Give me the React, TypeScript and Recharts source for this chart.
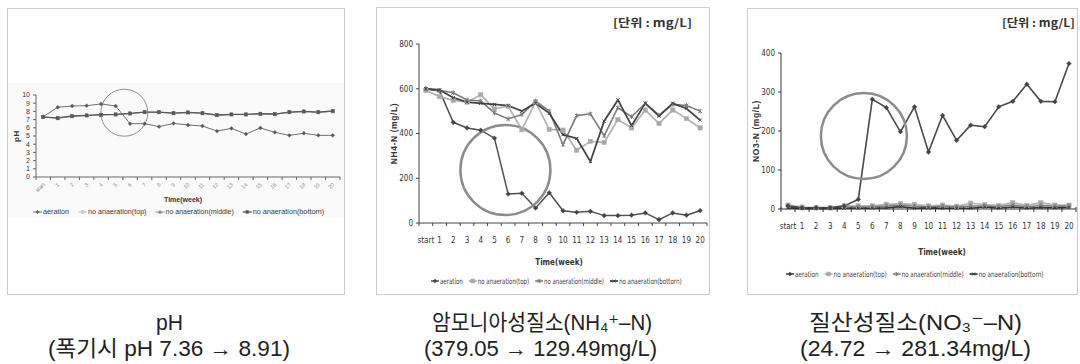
import React from 'react';
import { LineChart, Line, XAxis, YAxis, Legend, ReferenceDot, Label } from 'recharts';

// ---------------- data ----------------
const weeks = [0, 1, 2, 3, 4, 5, 6, 7, 8, 9, 10, 11, 12, 13, 14, 15, 16, 17, 18, 19, 20];
const weekLabels = ['start', '1', '2', '3', '4', '5', '6', '7', '8', '9', '10', '11', '12', '13', '14', '15', '16', '17', '18', '19', '20'];
const seriesNames = ['aeration', 'no anaeration(top)', 'no anaeration(middle)', 'no anaeration(bottorn)'];

const phAeration = [7.36, 8.5, 8.66, 8.7, 8.91, 8.66, 6.5, 6.5, 6.14, 6.54, 6.34, 6.22, 5.6, 5.93, 5.24, 5.98, 5.45, 5.08, 5.33, 5.08, 5.08];
const phTop = [7.3, 7.15, 7.4, 7.48, 7.56, 7.6, 7.72, 7.89, 7.89, 7.76, 7.85, 7.76, 7.52, 7.6, 7.6, 7.68, 7.64, 7.89, 7.97, 7.89, 8.0];
const phMiddle = [7.32, 7.18, 7.42, 7.5, 7.58, 7.62, 7.74, 7.9, 7.9, 7.78, 7.87, 7.78, 7.55, 7.62, 7.62, 7.7, 7.66, 7.9, 7.98, 7.9, 8.02];
const phBottom = [7.3, 7.2, 7.44, 7.52, 7.6, 7.64, 7.76, 7.92, 7.92, 7.8, 7.88, 7.8, 7.56, 7.64, 7.64, 7.72, 7.68, 7.92, 8.0, 7.92, 8.05];

const nh4Aeration = [600, 590, 450, 425, 415, 379.05, 129.49, 133, 67, 135, 55, 48, 52, 33, 33, 35, 45, 15, 45, 35, 55];
const nh4Top = [592, 565, 548, 540, 573, 510, 522, 417, 540, 418, 415, 325, 365, 360, 462, 425, 505, 445, 505, 467, 425];
const nh4Middle = [598, 592, 582, 550, 545, 492, 465, 485, 545, 500, 350, 480, 488, 390, 515, 475, 535, 482, 530, 525, 500];
const nh4Bottom = [600, 595, 560, 540, 535, 530, 525, 500, 535, 490, 395, 378, 275, 455, 550, 435, 535, 478, 535, 512, 460];

const no3Aeration = [8, 3, 3, 3, 8, 24.72, 281.34, 260, 198, 262, 146, 240, 176, 215, 211, 262, 276, 320, 276, 275, 373];
const no3Top = [10, 5, 4, 4, 8, 8, 8, 12, 14, 12, 8, 10, 7, 15, 11, 9, 16, 9, 16, 10, 10];
const no3Middle = [6, 3, 3, 2, 5, 5, 6, 8, 10, 7, 5, 7, 5, 8, 8, 6, 10, 6, 9, 7, 8];
const no3Bottom = [3, 1, 1, 1, 2, 2, 2, 3, 6, 2, 3, 2, 2, 2, 5, 2, 5, 2, 4, 3, 4];

const phTicks = [0, 1, 2, 3, 4, 5, 6, 7, 8, 9, 10];
const nh4Ticks = [0, 200, 400, 600, 800];
const no3Ticks = [0, 100, 200, 300, 400];

const phHighlight = { week: 5.6, value: 7.84 };
const nh4Highlight = { week: 5.8, value: 237 };
const no3Highlight = { week: 5.4, value: 187 };

const captionTitles = ['pH', '암모니아성질소(NH₄⁺–N)', '질산성질소(NO₃⁻–N)'];
const captionRanges = ['(폭기시 pH 7.36 → 8.91)', '(379.05 → 129.49mg/L)', '(24.72 → 281.34mg/L)'];
const unitText = '[단위 : mg/L]';

// ---------------- helpers ----------------
const buildRows = (a: number[], t: number[], m: number[], b: number[]) =>
  weeks.map((w, i) => ({ w, a: a[i], t: t[i], m: m[i], b: b[i] }));

const xTickValues: number[] = [];
weeks.forEach((w) => { xTickValues.push(w - 0.5); xTickValues.push(w); });
xTickValues.push(weeks[weeks.length - 1] + 0.5);

function Marker({ shape, cx, cy, size, stroke, fill }: any) {
  const s = size;
  if (cx == null || cy == null) return null;
  switch (shape) {
    case 'square':
      return <rect x={cx - s} y={cy - s} width={2 * s} height={2 * s} fill={fill} stroke={stroke} strokeWidth={0.5} />;
    case 'diamond':
      return <polygon points={`${cx},${cy - s * 1.3} ${cx + s * 1.3},${cy} ${cx},${cy + s * 1.3} ${cx - s * 1.3},${cy}`} fill={fill} stroke={stroke} strokeWidth={0.5} />;
    case 'triangle':
      return <polygon points={`${cx},${cy - s * 1.3} ${cx + s * 1.2},${cy + s} ${cx - s * 1.2},${cy + s}`} fill={fill} stroke={stroke} strokeWidth={0.5} />;
    case 'x':
      return <path d={`M${cx - s},${cy - s}L${cx + s},${cy + s}M${cx - s},${cy + s}L${cx + s},${cy - s}`} stroke={stroke} strokeWidth={1} />;
    case 'star':
      return <path d={`M${cx - s},${cy - s}L${cx + s},${cy + s}M${cx - s},${cy + s}L${cx + s},${cy - s}M${cx},${cy - s * 1.3}L${cx},${cy + s * 1.3}`} stroke={stroke} strokeWidth={1} />;
    default:
      return null;
  }
}

type SeriesStyle = { key: string; name: string; stroke: string; width: number; shape: string; size: number; fill: string };

const styles1: SeriesStyle[] = [
  { key: 'a', name: seriesNames[0], stroke: '#707070', width: 1, shape: 'diamond', size: 1.5, fill: '#555' },
  { key: 't', name: seriesNames[1], stroke: '#c4c4c4', width: 1, shape: 'square', size: 1.5, fill: '#c4c4c4' },
  { key: 'm', name: seriesNames[2], stroke: '#8a8a8a', width: 1, shape: 'triangle', size: 1.5, fill: '#777' },
  { key: 'b', name: seriesNames[3], stroke: '#5a5a5a', width: 1.3, shape: 'square', size: 1.5, fill: '#555' },
];
const styles2: SeriesStyle[] = [
  { key: 'a', name: seriesNames[0], stroke: '#505050', width: 1.5, shape: 'diamond', size: 1.8, fill: '#444' },
  { key: 't', name: seriesNames[1], stroke: '#b4b4b4', width: 1.8, shape: 'square', size: 2.2, fill: '#a8a8a8' },
  { key: 'm', name: seriesNames[2], stroke: '#7c7c7c', width: 1.6, shape: 'star', size: 1.8, fill: '#777' },
  { key: 'b', name: seriesNames[3], stroke: '#444444', width: 1.8, shape: 'x', size: 1.6, fill: '#444' },
];
const styles3: SeriesStyle[] = [
  { key: 'a', name: seriesNames[0], stroke: '#4a4a4a', width: 1.6, shape: 'diamond', size: 1.8, fill: '#444' },
  { key: 't', name: seriesNames[1], stroke: '#b8b8b8', width: 1.8, shape: 'square', size: 2.2, fill: '#aaa' },
  { key: 'm', name: seriesNames[2], stroke: '#7a7a7a', width: 1.5, shape: 'star', size: 1.8, fill: '#777' },
  { key: 'b', name: seriesNames[3], stroke: '#333333', width: 1.6, shape: 'x', size: 1.6, fill: '#333' },
];

type PanelCfg = {
  box: { left: number; top: number; width: number; height: number };
  plot: { left: number; top: number; right: number; bottom: number };
  rows: any[];
  yDomain: [number, number];
  yTicks: number[];
  yLabel: string;
  yLabelX: number;
  yLabelSize: number;
  yTickSize: number;
  xAxisHeight: number;
  xRotate: boolean;
  xLabelDy: number;
  xLabelSize: number;
  xLabelFill: string;
  xTickUp: number;
  timeX: number;
  timeY: number;
  timeSize: number;
  legendY: number;
  legendX0: number;
  legendIconW: number;
  legendCharW: number;
  legendGap: number;
  legendSize: number;
  styles: SeriesStyle[];
  drawOrder: string[];
  highlight: { week: number; value: number };
  circleR: number;
  circleW: number;
  font: string;
  axisColor: string;
};

const narrow = "'Liberation Sans Narrow', 'DejaVu Sans Condensed', 'Liberation Sans', Arial, sans-serif";
const sans = "'Liberation Sans', Arial, sans-serif";

const panels: PanelCfg[] = [
  {
    box: { left: 7, top: 8, width: 338, height: 287 },
    plot: { left: 36, top: 95, right: 340, bottom: 177 },
    rows: buildRows(phAeration, phTop, phMiddle, phBottom),
    yDomain: [0, 10], yTicks: phTicks, yLabel: 'pH', yLabelX: 16, yLabelSize: 8, yTickSize: 7,
    xAxisHeight: 28, xRotate: true, xLabelDy: 8, xLabelSize: 5.5, xLabelFill: '#8a8a8a', xTickUp: 0,
    timeX: 183, timeY: 201.5, timeSize: 7,
    legendY: 211.5, legendX0: 33, legendIconW: 9, legendCharW: 3.25, legendGap: 9, legendSize: 6.8,
    styles: styles1, drawOrder: ['t', 'm', 'b', 'a'],
    highlight: phHighlight, circleR: 23.5, circleW: 1, font: sans, axisColor: '#666',
  },
  {
    box: { left: 376, top: 7, width: 334, height: 288 },
    plot: { left: 419, top: 44, right: 707, bottom: 223 },
    rows: buildRows(nh4Aeration, nh4Top, nh4Middle, nh4Bottom),
    yDomain: [0, 800], yTicks: nh4Ticks, yLabel: 'NH4-N (mg/L)', yLabelX: 394, yLabelSize: 8.5, yTickSize: 8,
    xAxisHeight: 45, xRotate: false, xLabelDy: 20, xLabelSize: 8, xLabelFill: '#333', xTickUp: 0,
    timeX: 559, timeY: 265, timeSize: 8,
    legendY: 281, legendX0: 431, legendIconW: 8, legendCharW: 2.85, legendGap: 6, legendSize: 7.8,
    styles: styles2, drawOrder: ['a', 't', 'm', 'b'],
    highlight: nh4Highlight, circleR: 45, circleW: 2.5, font: narrow, axisColor: '#444',
  },
  {
    box: { left: 747, top: 8, width: 331, height: 287 },
    plot: { left: 781, top: 53, right: 1076, bottom: 209 },
    rows: buildRows(no3Aeration, no3Top, no3Middle, no3Bottom),
    yDomain: [0, 400], yTicks: no3Ticks, yLabel: 'NO3-N (mg/L)', yLabelX: 756, yLabelSize: 8.5, yTickSize: 8,
    xAxisHeight: 45, xRotate: false, xLabelDy: 20, xLabelSize: 8, xLabelFill: '#333', xTickUp: 2,
    timeX: 942, timeY: 255, timeSize: 8,
    legendY: 274, legendX0: 786, legendIconW: 8, legendCharW: 2.95, legendGap: 6, legendSize: 7.8,
    styles: styles3, drawOrder: ['t', 'm', 'b', 'a'],
    highlight: no3Highlight, circleR: 43, circleW: 2.5, font: narrow, axisColor: '#333',
  },
];

function XTick(props: any) {
  const { x, y, payload, cfg } = props;
  const v = payload.value;
  if (!Number.isInteger(v)) {
    return <line x1={x} y1={y - cfg.xTickUp} x2={x} y2={y + 3} stroke={cfg.axisColor} strokeWidth={1} />;
  }
  const label = weekLabels[weeks.indexOf(v)];
  if (cfg.xRotate) {
    const tx = x + 2;
    const ty = y + cfg.xLabelDy;
    return (
      <text x={tx} y={ty} transform={`rotate(-45 ${tx} ${ty})`} textAnchor="end" fontSize={cfg.xLabelSize} fill={cfg.xLabelFill} fontFamily={cfg.font}>
        {label}
      </text>
    );
  }
  return (
    <text x={x} y={y + cfg.xLabelDy} textAnchor="middle" fontSize={cfg.xLabelSize} fill={cfg.xLabelFill} fontFamily={cfg.font}>
      {label}
    </text>
  );
}

function makeLegend(cfg: PanelCfg) {
  return (props: any) => {
    const payload: any[] = props.payload || [];
    const h = 12;
    let x = cfg.legendX0 - cfg.box.left;
    const items = cfg.styles.map((s) => {
      const entry = payload.find((p) => p.dataKey === s.key || p.value === s.name);
      const color = entry && entry.color ? entry.color : s.stroke;
      const name = entry && entry.value ? entry.value : s.name;
      const tw = name.length * cfg.legendCharW;
      const ix = x;
      x += cfg.legendIconW + 1 + tw + cfg.legendGap;
      return (
        <g key={s.key}>
          <line x1={ix} x2={ix + cfg.legendIconW} y1={h / 2} y2={h / 2} stroke={color} strokeWidth={s.width} />
          <Marker shape={s.shape} cx={ix + cfg.legendIconW / 2} cy={h / 2} size={s.size * 0.9} stroke={color} fill={s.fill} />
          <text x={ix + cfg.legendIconW + 1} y={h / 2} dy="0.35em" fontSize={cfg.legendSize} fill="#3a3a3a" fontFamily={cfg.font} textLength={tw} lengthAdjust="spacingAndGlyphs">
            {name}
          </text>
        </g>
      );
    });
    return <svg width={cfg.box.width} height={h} style={{ display: 'block' }}>{items}</svg>;
  };
}

function Panel({ cfg }: { cfg: PanelCfg }) {
  const { box, plot } = cfg;
  const yW = plot.left - box.left;
  const mTop = plot.top - box.top;
  const mRight = box.left + box.width - plot.right;
  const mBottom = box.top + box.height - plot.bottom - cfg.xAxisHeight;
  const ordered = cfg.drawOrder.map((k) => cfg.styles.find((s) => s.key === k)!);
  return (
    <div style={{ position: 'absolute', left: box.left, top: box.top, width: box.width, height: box.height }}>
      <LineChart width={box.width} height={box.height} data={cfg.rows} margin={{ top: mTop, right: mRight, bottom: mBottom, left: 0 }}>
        <XAxis
          dataKey="w" type="number" domain={[-0.5, 20.5]} ticks={xTickValues} interval={0}
          tickLine={false} tickSize={0} tickMargin={0} height={cfg.xAxisHeight}
          axisLine={{ stroke: cfg.axisColor }} tick={<XTick cfg={cfg} />}
        >
          <Label
            content={() => (
              <text x={cfg.timeX - box.left} y={cfg.timeY - box.top} textAnchor="middle" fontSize={cfg.timeSize} fontWeight="bold" fill="#333" fontFamily={cfg.font}>
                Time(week)
              </text>
            )}
          />
        </XAxis>
        <YAxis
          domain={cfg.yDomain} ticks={cfg.yTicks} interval={0} width={yW}
          tickSize={3} tickMargin={3}
          axisLine={{ stroke: cfg.axisColor }} tickLine={{ stroke: cfg.axisColor }}
          tick={{ fontSize: cfg.yTickSize, fill: '#333', fontFamily: cfg.font }}
        >
          <Label
            content={() => {
              const cx = cfg.yLabelX - box.left;
              const cy = (plot.top + plot.bottom) / 2 - box.top;
              return (
                <text x={cx} y={cy} transform={`rotate(-90 ${cx} ${cy})`} textAnchor="middle" dy="0.35em" fontSize={cfg.yLabelSize} fontWeight="bold" fill="#333" fontFamily={sans} letterSpacing={0.6}>
                  {cfg.yLabel}
                </text>
              );
            }}
          />
        </YAxis>
        <Legend
          verticalAlign="middle" align="center" layout="horizontal"
          content={makeLegend(cfg)}
          wrapperStyle={{ top: cfg.legendY - box.top - 6, left: 0, width: box.width, height: 12, margin: 0, padding: 0, lineHeight: 0 }}
        />
        {ordered.map((s) => (
          <Line
            key={s.key} type="linear" dataKey={s.key} name={s.name} stroke={s.stroke} strokeWidth={s.width}
            isAnimationActive={false} activeDot={false}
            dot={(p: any) => (
              <g key={`${s.key}-${p.index}`}>
                <Marker shape={s.shape} cx={p.cx} cy={p.cy} size={s.size} stroke={s.stroke} fill={s.fill} />
              </g>
            )}
          />
        ))}
        <ReferenceDot
          x={cfg.highlight.week} y={cfg.highlight.value} r={cfg.circleR}
          fill="none" stroke="#8c8c8c" strokeWidth={cfg.circleW} ifOverflow="visible"
        />
      </LineChart>
    </div>
  );
}

const kfont = "'Noto Sans CJK KR', 'Noto Sans', sans-serif";
const capFont = "'Liberation Sans', 'DejaVu Sans', 'Noto Sans CJK KR', sans-serif";

export default function App() {
  return (
    <div style={{ position: 'absolute', left: 0, top: 0, width: 1080, height: 364, background: '#fff', overflow: 'hidden' }}>
      {/* faint background of the pH picture */}
      <div style={{ position: 'absolute', left: 8, top: 83, width: 336, height: 135, background: '#fafafa' }} />
      {panels.map((p, i) => (
        <div key={`b${i}`} style={{ position: 'absolute', left: p.box.left, top: p.box.top, width: p.box.width, height: p.box.height, boxSizing: 'border-box', border: '1px solid #cdcdcd' }} />
      ))}
      {panels.map((p, i) => (
        <Panel key={`p${i}`} cfg={p} />
      ))}
      <svg width={1080} height={364} style={{ position: 'absolute', left: 0, top: 0, pointerEvents: 'none' }}>
        <text x={652.5} y={27} textAnchor="middle" fontSize={11} fontWeight="bold" fill="#333" fontFamily={kfont} textLength={79} lengthAdjust="spacingAndGlyphs">{unitText}</text>
        <text x={1038.5} y={27} textAnchor="middle" fontSize={11} fontWeight="bold" fill="#333" fontFamily={kfont} textLength={73} lengthAdjust="spacingAndGlyphs">{unitText}</text>

        <text x={169.5} y={330} textAnchor="middle" fontSize={22} fill="#222" fontFamily={capFont} textLength={27} lengthAdjust="spacingAndGlyphs">{captionTitles[0]}</text>
        <text x={542} y={330} textAnchor="middle" fontSize={22} fill="#222" fontFamily={capFont} textLength={220} lengthAdjust="spacingAndGlyphs">{captionTitles[1]}</text>
        <text x={915.5} y={330} textAnchor="middle" fontSize={22} fill="#222" fontFamily={capFont} textLength={213} lengthAdjust="spacingAndGlyphs">{captionTitles[2]}</text>

        <text x={169} y={356} textAnchor="middle" fontSize={22} fill="#222" fontFamily={capFont} textLength={242} lengthAdjust="spacingAndGlyphs">{captionRanges[0]}</text>
        <text x={540.5} y={356} textAnchor="middle" fontSize={22} fill="#222" fontFamily={capFont} textLength={233} lengthAdjust="spacingAndGlyphs">{captionRanges[1]}</text>
        <text x={915.5} y={356} textAnchor="middle" fontSize={22} fill="#222" fontFamily={capFont} textLength={231} lengthAdjust="spacingAndGlyphs">{captionRanges[2]}</text>
      </svg>
    </div>
  );
}
